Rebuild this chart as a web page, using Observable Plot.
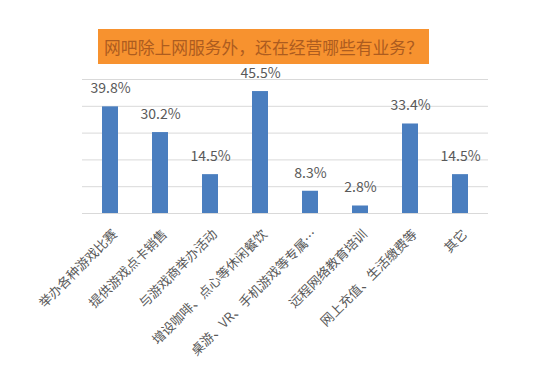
<!DOCTYPE html>
<html><head><meta charset="utf-8">
<script src="https://cdn.jsdelivr.net/npm/d3@7"></script>
<script src="https://cdn.jsdelivr.net/npm/@observablehq/plot@0.6"></script>
<style>
body{margin:0;background:#fff;}
#wrap{position:relative;width:558px;height:366px;}
#title{position:absolute;left:98px;top:29px;width:331px;height:35px;background:#f7922f;color:#ad5c1f;font-family:"Noto Sans CJK SC";font-size:16.8px;display:flex;align-items:center;justify-content:center;z-index:2;}
#wrap svg{position:absolute;left:0;top:0;}
</style></head><body>
<div id="wrap"><div id="title">网吧除上网服务外，还在经营哪些有业务？</div></div>
<script>
const categories = ["举办各种游戏比赛","提供游戏点卡销售","与游戏商举办活动","增设咖啡、点心等休闲餐饮","桌游、VR、手机游戏等专属…","远程网络教育培训","网上充值、生活缴费等","其它"];
const values = [39.8,30.2,14.5,45.5,8.3,2.8,33.4,14.5];
const valueLabels = ["39.8%","30.2%","14.5%","45.5%","8.3%","2.8%","33.4%","14.5%"];
const gridTicks = [10,20,30,40,50];
const data = categories.map((c,i)=>({category:c, value:values[i], label:valueLabels[i]}));
const chart = Plot.plot({
  width:558, height:366, marginLeft:82, marginRight:70, marginTop:79, marginBottom:153,
  style:{fontFamily:"'Noto Sans CJK SC'", background:"transparent"},
  x:{domain:categories, paddingInner:0.685, paddingOuter:0.3425, axis:null},
  y:{domain:[0,50], axis:null},
  marks:[
    Plot.gridY(gridTicks, {stroke:"#d9d9d9", strokeOpacity:1}),
    Plot.ruleY([0], {stroke:"#d9d9d9"}),
    Plot.barY(data, {x:"category", y:"value", fill:"#4a7ebf"}),
    Plot.text(data, {x:"category", y:"value", text:"label", dy:-18, fontSize:14, fill:"#595959"}),
    Plot.text(categories, {x:d=>d, frameAnchor:"bottom", rotate:-45, textAnchor:"end", lineAnchor:"middle", dx:4.6, dy:18.6, fontSize:13, fill:"#595959"})
  ]
});
document.getElementById("wrap").appendChild(chart);
</script>
</body></html>
